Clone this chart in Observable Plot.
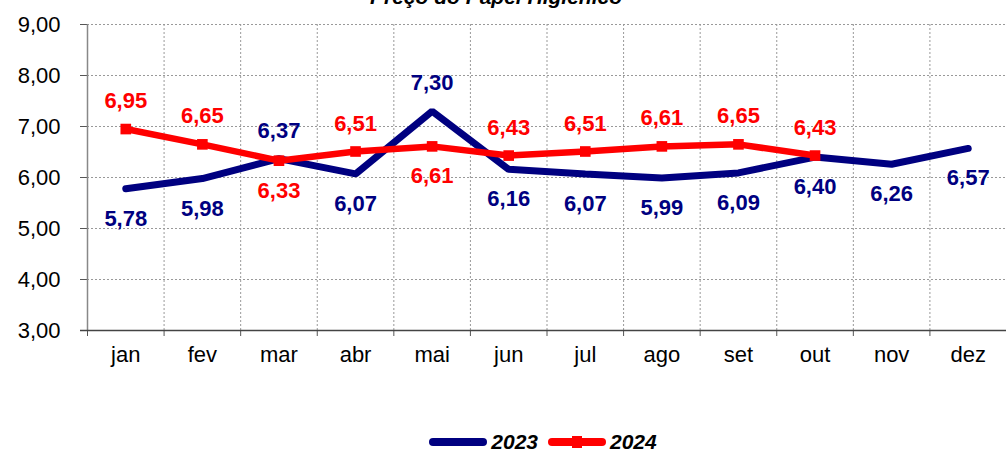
<!DOCTYPE html>
<html><head><meta charset="utf-8">
<script src="https://cdn.jsdelivr.net/npm/d3@7"></script>
<script src="https://cdn.jsdelivr.net/npm/@observablehq/plot@0.6"></script>
<style>
body{margin:0;background:#fff;font-family:"Liberation Sans",Arial,sans-serif;}
#wrap{position:relative;width:1006px;height:453px;overflow:hidden;}
#title{position:absolute;left:0;width:992px;text-align:center;top:-15px;font-size:21px;font-weight:bold;font-style:italic;color:#000;}
#legend{position:absolute;left:0;width:1006px;box-sizing:border-box;padding-left:90px;top:431px;line-height:21px;display:flex;justify-content:center;align-items:center;font-size:21px;font-weight:bold;font-style:italic;}
#legend span.sw{display:inline-block;width:58px;height:8px;border-radius:4px;margin-right:4px;position:relative;}
#legend span.lab{margin-right:10px;}
#chart{position:absolute;left:0;top:0;}
#chart svg g[aria-label$="tick label"] text{font-size:22px;}
</style></head>
<body><div id="wrap"><div id="title">Preço do Papel Higiênico</div><div id="chart"></div>
<div id="legend"><span class="sw" style="background:#000080"></span><span class="lab">2023</span><span class="sw" style="background:#ff0000"><span style="position:absolute;left:24px;top:-2px;width:10px;height:12px;background:#ff0000"></span></span><span class="lab">2024</span></div>
</div>
<script>
const months = ["jan","fev","mar","abr","mai","jun","jul","ago","set","out","nov","dez"];
const values2023 = [5.78,5.98,6.37,6.07,7.30,6.16,6.07,5.99,6.09,6.40,6.26,6.57];
const values2024 = [6.95,6.65,6.33,6.51,6.61,6.43,6.51,6.61,6.65,6.43];
const yTicks = [3,4,5,6,7,8,9];

const fmt = v => d3.format(".2f")(v).replace(".", ",");
const rows = [];
values2023.forEach((v,i)=>{
  const o = values2024[i];
  rows.push({series:"2023", x:i+0.5, v, above: o!==undefined && v>o});
});
values2024.forEach((v,i)=>{
  const o = values2023[i];
  rows.push({series:"2024", x:i+0.5, v, above: o===undefined || v>o});
});
const r23 = rows.filter(d=>d.series==="2023");
const r24 = rows.filter(d=>d.series==="2024");
const colors = {"2023":"#000080","2024":"#ff0000"};

const plot = Plot.plot({
  width:1006, height:390,
  marginTop:24, marginBottom:60, marginLeft:87, marginRight:0,
  style:{fontFamily:"'Liberation Sans', Arial, sans-serif", fontSize:"22px", color:"#000", background:"transparent"},
  x:{type:"linear", domain:[0,12]},
  y:{domain:[3,9]},
  marks:[
    Plot.ruleY(yTicks.filter(t=>t>3), {stroke:"#999", strokeDasharray:"2,2", strokeWidth:1}),
    Plot.ruleX(d3.range(1,13), {stroke:"#999", strokeDasharray:"2,2", strokeWidth:1}),
    Plot.axisY({ticks:yTicks, tickFormat:fmt, tickSize:7, tickPadding:20, fontSize:22, stroke:"#555", label:null}),
    Plot.axisX({ticks:d3.range(0,13), tickFormat:()=>"", tickSize:6, stroke:"#555", label:null}),
    Plot.axisX({ticks:months.map((m,i)=>i+0.5), tickFormat:t=>months[Math.round(t-0.5)], tickSize:0, tickPadding:16, fontSize:22, label:null}),
    Plot.ruleX([0], {stroke:"#888", strokeWidth:1.5}),
    Plot.ruleY([3], {stroke:"#444", strokeWidth:1.5, insetLeft:-7}),
    Plot.line(r23, {x:"x", y:"v", stroke:colors["2023"], strokeWidth:7, strokeLinecap:"round", strokeLinejoin:"miter"}),
    Plot.line(r24, {x:"x", y:"v", stroke:colors["2024"], strokeWidth:6.5, strokeLinejoin:"miter"}),
    Plot.dot(r24, {x:"x", y:"v", symbol:"square", r:6, fill:colors["2024"], stroke:"none"}),
    Plot.text(rows.filter(d=>d.above), {x:"x", y:"v", text:d=>fmt(d.v), dy:-28, fill:d=>colors[d.series], fontWeight:"bold", fontSize:22}),
    Plot.text(rows.filter(d=>!d.above), {x:"x", y:"v", text:d=>fmt(d.v), dy:30, fill:d=>colors[d.series], fontWeight:"bold", fontSize:22})
  ]
});
document.getElementById("chart").appendChild(plot);
</script></body></html>
